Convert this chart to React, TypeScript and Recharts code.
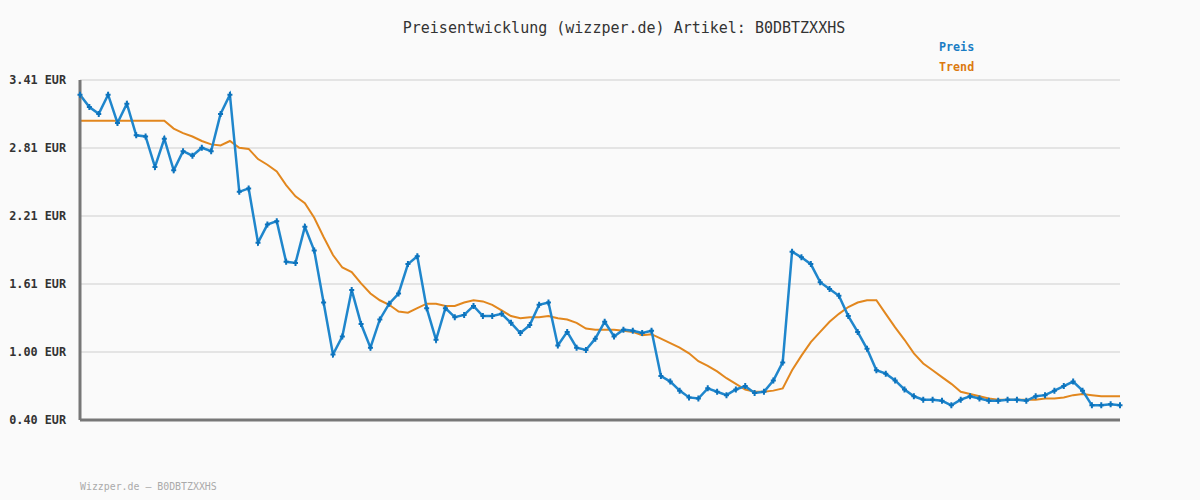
import React from 'react';
import { LineChart, Line, XAxis, YAxis, CartesianGrid, ReferenceLine } from 'recharts';

// Preis readings, one per sample
const preis = [
  3.28, 3.17, 3.11, 3.28, 3.03, 3.2, 2.92, 2.91, 2.64, 2.89,
  2.61, 2.78, 2.74, 2.81, 2.78, 3.11, 3.28, 2.42, 2.45, 1.97,
  2.13, 2.16, 1.8, 1.79, 2.11, 1.9, 1.44, 0.98, 1.14, 1.55,
  1.25, 1.04, 1.29, 1.43, 1.52, 1.78, 1.85, 1.39, 1.11, 1.39,
  1.31, 1.33, 1.41, 1.32, 1.32, 1.34, 1.26, 1.17, 1.24, 1.42,
  1.44, 1.06, 1.18, 1.04, 1.02, 1.12, 1.27, 1.14, 1.2, 1.19,
  1.17, 1.19, 0.79, 0.74, 0.66, 0.6, 0.59, 0.68, 0.65, 0.62,
  0.67, 0.7, 0.64, 0.65, 0.75, 0.91, 1.89, 1.84, 1.78, 1.62,
  1.56, 1.5, 1.32, 1.18, 1.03, 0.84, 0.81, 0.75, 0.67, 0.61,
  0.58, 0.58, 0.57, 0.53, 0.58, 0.61, 0.59, 0.57, 0.57, 0.58,
  0.58, 0.57, 0.61, 0.62, 0.66, 0.7, 0.74, 0.66, 0.53, 0.53,
  0.54, 0.53,
];

// Trend (moving average) values
const trend = [
  3.05, 3.05, 3.05, 3.05, 3.05, 3.05, 3.05, 3.05, 3.05, 3.05,
  2.98, 2.94, 2.91, 2.87, 2.84, 2.83, 2.87, 2.81, 2.8, 2.71,
  2.66, 2.6, 2.48, 2.38, 2.32, 2.19, 2.02, 1.86, 1.75, 1.71,
  1.61, 1.52, 1.46, 1.42, 1.36, 1.35, 1.39, 1.43, 1.43, 1.41,
  1.41, 1.44, 1.46, 1.45, 1.42, 1.37, 1.32, 1.3, 1.31, 1.31,
  1.32, 1.3, 1.29, 1.26, 1.21, 1.2, 1.2, 1.2, 1.19, 1.18,
  1.15, 1.16, 1.12, 1.08, 1.04, 0.99, 0.92, 0.88, 0.83, 0.77,
  0.72, 0.67, 0.65, 0.65, 0.66, 0.68, 0.84, 0.97, 1.09, 1.18,
  1.27, 1.34, 1.4, 1.44, 1.46, 1.46, 1.34, 1.22, 1.11, 0.99,
  0.9, 0.84, 0.78, 0.72, 0.65, 0.63, 0.61, 0.59, 0.58, 0.58,
  0.58, 0.58, 0.58, 0.59, 0.59, 0.6, 0.62, 0.63, 0.62, 0.61,
  0.61, 0.61,
];

const yTicks = [0.4, 1.002, 1.604, 2.206, 2.808, 3.41];
const yTickLabels = ['0.40', '1.00', '1.61', '2.21', '2.81', '3.41'];

const data = preis.map((p, i) => ({ i, preis: p, trend: trend[i] }));

const MONO = '"DejaVu Sans Mono", "Liberation Mono", monospace';
const BLUE = '#1f86cc';
const ORANGE = '#e2871e';

const Marker = (props: any) => {
  const { cx, cy } = props;
  if (cx == null || cy == null) return null;
  return (
    <path
      d={`M${cx - 2.5},${cy} L${cx + 2.5},${cy} M${cx},${cy - 3} L${cx},${cy + 3}`}
      stroke="#0c73bd"
      strokeWidth={2}
    />
  );
};

export default function App() {
  return (
    <div
      style={{
        position: 'absolute',
        left: 0,
        top: 0,
        width: 1200,
        height: 500,
        background: '#fafafa',
        fontFamily: MONO,
      }}
    >
      <div
        style={{
          position: 'absolute',
          top: 18,
          left: 0,
          width: 1248,
          textAlign: 'center',
          fontSize: 15,
          color: '#333',
          lineHeight: '20px',
        }}
      >
        Preisentwicklung (wizzper.de) Artikel: B0DBTZXXHS
      </div>
      <div style={{ position: 'absolute', left: 939, top: 39, fontSize: 11.7, fontWeight: 'bold', color: '#1a7dc4', lineHeight: '16px' }}>
        Preis
      </div>
      <div style={{ position: 'absolute', left: 939, top: 59, fontSize: 11.7, fontWeight: 'bold', color: '#dc7a10', lineHeight: '16px' }}>
        Trend
      </div>
      <div style={{ position: 'absolute', left: 80, top: 479, fontSize: 9.9, color: '#aaa', lineHeight: '16px' }}>
        Wizzper.de – B0DBTZXXHS
      </div>
      <LineChart width={1200} height={500} data={data} margin={{ top: 80, right: 80, bottom: 80, left: 0 }}>
        <CartesianGrid vertical={false} stroke="#e4e4e4" strokeWidth={2} />
        <XAxis dataKey="i" hide height={0} />
        <YAxis
          width={80}
          domain={[0.4, 3.41]}
          ticks={yTicks}
          tickLine={false}
          tickSize={0}
          tickMargin={14}
          axisLine={{ stroke: '#777', strokeWidth: 3 }}
          tickFormatter={(v: number) => yTickLabels[yTicks.indexOf(v)] + ' EUR'}
          tick={{ fill: '#333', fontSize: 11.8, fontWeight: 'bold', fontFamily: MONO }}
        />
        <ReferenceLine y={0.4} stroke="#777" strokeWidth={3} />
        <Line
          type="linear"
          dataKey="trend"
          stroke={ORANGE}
          strokeWidth={2}
          dot={false}
          isAnimationActive={false}
        />
        <Line
          type="linear"
          dataKey="preis"
          stroke={BLUE}
          strokeWidth={2.5}
          dot={<Marker />}
          isAnimationActive={false}
        />
      </LineChart>
    </div>
  );
}
